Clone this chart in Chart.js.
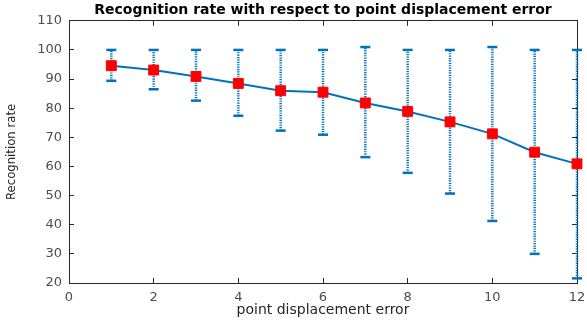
<!DOCTYPE html>
<html>
<head>
<meta charset="utf-8">
<script src="https://cdn.jsdelivr.net/npm/chart.js@4"></script>
<style>
  html, body { margin: 0; padding: 0; background: #fff; }
  canvas { display: block; }
</style>
</head>
<body>
<canvas id="chart" width="587" height="320"></canvas>
<script>
// point displacement error vs recognition rate, with min/max error bars
const displacement = [1, 2, 3, 4, 5, 6, 7, 8, 9, 10, 11, 12];
const meanRate = [94.6, 93.1, 90.9, 88.5, 86.0, 85.5, 81.8, 78.9, 75.3, 71.2, 64.9, 60.9];
const upperRate = [100, 100, 100, 100, 100, 100, 101, 100, 100, 101, 100, 100];
const lowerRate = [89.4, 86.5, 82.6, 77.4, 72.3, 70.9, 63.2, 57.8, 50.7, 41.3, 30.0, 21.6];

const BLUE = "#0072BD";
const AXIS = "#262626";
const TICK_TEXT = "#4d4d4d";
const SANS = "'DejaVu Sans', 'Liberation Sans', sans-serif";

const errorBars = displacement.map((x, i) => ({
  data: [{ x, y: lowerRate[i] }, { x, y: upperRate[i] }],
  borderColor: BLUE,
  borderWidth: 2.5,
  borderDash: [1.2, 1.2],
  pointStyle: "line",
  pointRadius: 5,
  pointBorderWidth: 2.5,
  pointBorderColor: BLUE,
  clip: false,
}));

// pin axis sizes so the plot box lands where the original figure has it
const fixSize = (w, h) => (scale) => {
  if (w != null) scale.width = w;
  if (h != null) scale.height = h;
  scale.paddingLeft = 0;
  scale.paddingRight = 0;
};

new Chart(document.getElementById("chart"), {
  type: "line",
  data: {
    datasets: [
      {
        data: displacement.map((x, i) => ({ x, y: meanRate[i] })),
        borderColor: BLUE,
        borderWidth: 2,
        pointStyle: "rect",
        pointRadius: 7,
        pointBackgroundColor: "#ff0000",
        pointBorderColor: "#ff0000",
        pointBorderWidth: 1,
        clip: false,
      },
      ...errorBars,
    ],
  },
  options: {
    responsive: false,
    animation: false,
    devicePixelRatio: 1,
    layout: { padding: { left: 0, right: 10, top: 2, bottom: 0 } },
    plugins: {
      legend: { display: false },
      tooltip: { enabled: false },
      title: {
        display: true,
        fullSize: false,
        text: "Recognition rate with respect to point displacement error",
        color: "#000",
        font: { family: SANS, size: 14, weight: "bold" },
        padding: { top: 0, bottom: 2 },
      },
    },
    scales: {
      x: {
        type: "linear",
        position: "bottom",
        min: 0,
        max: 12,
        ticks: { stepSize: 2, color: TICK_TEXT, padding: 12, font: { family: SANS, size: 13 } },
        grid: { drawOnChartArea: false, tickLength: -5, color: AXIS },
        border: { color: AXIS, width: 1 },
        title: {
          display: true,
          text: "point displacement error",
          color: AXIS,
          font: { family: SANS, size: 14 },
          padding: { top: 0, bottom: 1 },
        },
        afterFit: fixSize(null, 37),
      },
      y: {
        position: "left",
        min: 20,
        max: 110,
        ticks: { stepSize: 10, color: TICK_TEXT, padding: 12, font: { family: SANS, size: 13 } },
        grid: { drawOnChartArea: false, tickLength: -5, color: AXIS },
        border: { color: AXIS, width: 1 },
        title: {
          display: true,
          text: "Recognition rate",
          color: AXIS,
          font: { family: "'DejaVu Sans Condensed', 'Liberation Sans', sans-serif", size: 13 },
          padding: { top: 4, bottom: 0 },
        },
        afterFit: fixSize(69, null),
      },
      x2: {
        type: "linear",
        position: "top",
        min: 0,
        max: 12,
        ticks: { stepSize: 2, display: false },
        grid: { drawOnChartArea: false, tickLength: -5, color: AXIS },
        border: { color: AXIS, width: 1 },
        afterFit: fixSize(null, 0),
      },
      y2: {
        position: "right",
        min: 20,
        max: 110,
        ticks: { stepSize: 10, display: false },
        grid: { drawOnChartArea: false, tickLength: -5, color: AXIS },
        border: { color: AXIS, width: 1 },
        afterFit: fixSize(0, null),
      },
    },
  },
});
</script>
</body>
</html>
